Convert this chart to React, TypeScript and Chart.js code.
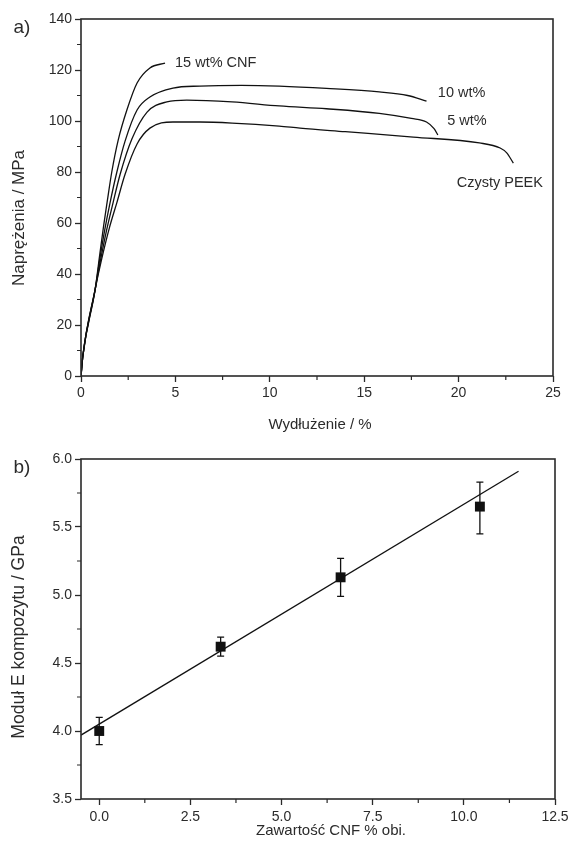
import React, { useEffect, useRef } from 'react';
import { Chart, registerables } from 'chart.js';

Chart.register(...registerables);

const FONT_FAMILY = '"Liberation Sans", Arial, Helvetica, sans-serif';
const INK = '#111111';
const AXIS = '#2a2a2a';
const TEXT = '#2b2b2b';

// ---------- Panel a) stress-strain curves ----------
const strainPeek = [0, 0.1, 0.75, 1.1, 1.5, 1.9, 2.33, 2.97, 3.65, 4.87, 6.3, 8.0, 10.5, 11.6, 14.0, 17.6, 21.1, 22.2, 22.55, 22.9];
const stressPeek = [0, 8, 34, 46, 58, 68, 79, 91, 97.2, 99.6, 99.6, 99.2, 98.0, 97.2, 95.8, 93.7, 91.4, 89.4, 87.5, 83.5];

const strain5 = [0, 0.1, 0.75, 1.05, 1.35, 1.7, 2.07, 2.7, 3.5, 4.55, 5.6, 8.0, 10.5, 13.0, 15.8, 17.5, 18.3, 18.7, 18.9];
const stress5 = [0, 8, 34, 46, 57, 68, 79, 93, 103.5, 107.5, 108.2, 107.5, 105.9, 104.8, 103.0, 101.0, 99.6, 97.0, 94.5];

const strain10 = [0, 0.1, 0.75, 1.0, 1.25, 1.54, 1.9, 2.33, 2.97, 3.65, 4.87, 6.3, 8.5, 10.5, 13.0, 15.8, 17.3, 18.3];
const stress10 = [0, 8, 34, 46, 57, 68, 80, 92, 104.3, 109.4, 112.9, 113.7, 114.0, 113.7, 112.8, 111.4, 110.0, 107.8];

const strain15 = [0, 0.1, 0.75, 1.0, 1.2, 1.38, 1.63, 1.97, 2.43, 2.97, 3.65, 4.45];
const stress15 = [0, 8, 34, 48, 59, 68, 80, 92.5, 104.3, 114.9, 120.8, 122.7];

const xTicksA = [0, 5, 10, 15, 20, 25];
const xMinorA = [2.5, 7.5, 12.5, 17.5, 22.5];
const yTicksA = [0, 20, 40, 60, 80, 100, 120, 140];
const yMinorA = [10, 30, 50, 70, 90, 110, 130];
const curveLabelsA = ['15 wt% CNF', '10 wt%', '5 wt%', 'Czysty PEEK'];

// ---------- Panel b) modulus vs CNF content ----------
const cnfContent = [0, 3.33, 6.62, 10.44];
const modulus = [4.0, 4.62, 5.13, 5.65];
const modulusLow = [3.9, 4.55, 4.99, 5.45];
const modulusHigh = [4.1, 4.69, 5.27, 5.83];
const fitX = [-0.5, 11.5];
const fitY = [3.97, 5.91];

const xTicksB = [0, 2.5, 5, 7.5, 10, 12.5];
const xMinorB = [1.25, 3.75, 6.25, 8.75, 11.25];
const yTicksB = [3.5, 4.0, 4.5, 5.0, 5.5, 6.0];
const yMinorB = [3.75, 4.25, 4.75, 5.25, 5.75];

// ---------- layout (not data) ----------
const curveLabelPos = [
  { x: 4.98, y: 122.7 },
  { x: 18.9, y: 111 },
  { x: 19.4, y: 100 },
  { x: 19.9, y: 75.7 },
];

const toXY = (xs: number[], ys: number[]) => xs.map((x, i) => ({ x, y: ys[i] }));

type TitleSpec = { text: string; x: number; y: number; size: number; rotate?: boolean };

type DecorSpec = {
  xMinor: number[];
  yMinor: number[];
  titles: TitleSpec[];
  dataLabels?: { text: string; x: number; y: number; size: number }[];
  errors?: { x: number[]; lo: number[]; hi: number[] };
};

function makeDecor(spec: DecorSpec) {
  return {
    id: 'decor',
    afterDatasetsDraw(chart: any) {
      const { ctx, chartArea: ca, scales } = chart;
      const xs = scales.x;
      const ys = scales.y;
      ctx.save();
      // error bars
      if (spec.errors) {
        ctx.strokeStyle = INK;
        ctx.lineWidth = 1.3;
        ctx.beginPath();
        spec.errors.x.forEach((xv, i) => {
          const px = xs.getPixelForValue(xv);
          const p1 = ys.getPixelForValue(spec.errors!.lo[i]);
          const p2 = ys.getPixelForValue(spec.errors!.hi[i]);
          ctx.moveTo(px, p1);
          ctx.lineTo(px, p2);
          ctx.moveTo(px - 3.5, p1);
          ctx.lineTo(px + 3.5, p1);
          ctx.moveTo(px - 3.5, p2);
          ctx.lineTo(px + 3.5, p2);
        });
        ctx.stroke();
      }
      // frame
      ctx.strokeStyle = AXIS;
      ctx.lineWidth = 1.6;
      ctx.strokeRect(ca.left, ca.top, ca.right - ca.left, ca.bottom - ca.top);
      // minor ticks
      ctx.lineWidth = 1.2;
      ctx.beginPath();
      spec.xMinor.forEach((v) => {
        const p = xs.getPixelForValue(v);
        ctx.moveTo(p, ca.bottom);
        ctx.lineTo(p, ca.bottom + 4);
      });
      spec.yMinor.forEach((v) => {
        const p = ys.getPixelForValue(v);
        ctx.moveTo(ca.left - 4, p);
        ctx.lineTo(ca.left, p);
      });
      ctx.stroke();
      // curve labels (data coordinates)
      ctx.fillStyle = TEXT;
      ctx.textBaseline = 'middle';
      ctx.textAlign = 'left';
      (spec.dataLabels || []).forEach((l) => {
        ctx.font = `${l.size}px ${FONT_FAMILY}`;
        ctx.fillText(l.text, xs.getPixelForValue(l.x), ys.getPixelForValue(l.y));
      });
      // titles
      ctx.textAlign = 'center';
      spec.titles.forEach((t) => {
        ctx.font = `${t.size}px ${FONT_FAMILY}`;
        if (t.rotate) {
          ctx.save();
          ctx.translate(t.x, t.y);
          ctx.rotate(-Math.PI / 2);
          ctx.fillText(t.text, 0, 0);
          ctx.restore();
        } else {
          ctx.fillText(t.text, t.x, t.y);
        }
      });
      ctx.restore();
    },
  };
}

function axis(min: number, max: number, ticks: number[], fmt: (v: number) => string, fitSize: number, horizontal: boolean, pad: number) {
  return {
    type: 'linear' as const,
    min,
    max,
    afterBuildTicks: (s: any) => {
      s.ticks = ticks.map((v) => ({ value: v }));
    },
    afterFit: (s: any) => {
      if (horizontal) s.height = fitSize;
      else s.width = fitSize;
    },
    ticks: {
      color: TEXT,
      font: { family: FONT_FAMILY, size: 14 },
      padding: pad,
      autoSkip: false,
      maxRotation: 0,
      callback: (v: any) => fmt(Number(v)),
    },
    grid: {
      display: true,
      drawOnChartArea: false,
      drawTicks: true,
      tickLength: 6,
      tickColor: AXIS,
      tickWidth: 1.3,
      color: AXIS,
    },
    border: { display: false },
  };
}

const lineDs = (xs: number[], ys: number[]) => ({
  data: toXY(xs, ys),
  showLine: true,
  borderColor: INK,
  borderWidth: 1.3,
  pointRadius: 0,
  fill: false,
  cubicInterpolationMode: 'monotone' as const,
});

function PanelA() {
  const ref = useRef<HTMLCanvasElement>(null);
  useEffect(() => {
    const chart = new Chart(ref.current!, {
      type: 'scatter',
      data: {
        datasets: [
          lineDs(strainPeek, stressPeek),
          lineDs(strain5, stress5),
          lineDs(strain10, stress10),
          lineDs(strain15, stress15),
        ],
      },
      options: {
        responsive: false,
        animation: false,
        events: [],
        layout: { padding: { top: 19, right: 20, bottom: 0, left: 0 } },
        plugins: { legend: { display: false }, tooltip: { enabled: false } },
        scales: {
          x: axis(0, 25, xTicksA, (v) => String(v), 69, true, 3),
          y: axis(0, 140, yTicksA, (v) => String(v), 81, false, 3),
        },
      },
      plugins: [
        makeDecor({
          xMinor: xMinorA,
          yMinor: yMinorA,
          dataLabels: curveLabelsA.map((t, i) => ({ text: t, x: curveLabelPos[i].x, y: curveLabelPos[i].y, size: 14.5 })),
          titles: [
            { text: 'a)', x: 22, y: 28, size: 19 },
            { text: 'Wydłużenie / %', x: 320, y: 425, size: 15 },
            { text: 'Naprężenia / MPa', x: 19, y: 218, size: 17, rotate: true },
          ],
        }),
      ],
    });
    return () => chart.destroy();
  }, []);
  return (
    <canvas
      ref={ref}
      width={573}
      height={445}
      style={{ position: 'absolute', left: 0, top: 0, width: 573, height: 445 }}
    />
  );
}

function PanelB() {
  const ref = useRef<HTMLCanvasElement>(null);
  useEffect(() => {
    const chart = new Chart(ref.current!, {
      type: 'scatter',
      data: {
        datasets: [
          lineDs(fitX, fitY),
          {
            data: toXY(cnfContent, modulus),
            showLine: false,
            pointStyle: 'rect',
            pointRadius: 7,
            backgroundColor: INK,
            borderColor: INK,
            borderWidth: 0,
          },
        ],
      },
      options: {
        responsive: false,
        animation: false,
        events: [],
        layout: { padding: { top: 14, right: 18, bottom: 0, left: 0 } },
        plugins: { legend: { display: false }, tooltip: { enabled: false } },
        scales: {
          x: axis(-0.5, 12.5, xTicksB, (v) => v.toFixed(1), 44, true, 4),
          y: axis(3.5, 6.0, yTicksB, (v) => v.toFixed(1), 81, false, 3),
        },
      },
      plugins: [
        makeDecor({
          xMinor: xMinorB,
          yMinor: yMinorB,
          errors: { x: cnfContent, lo: modulusLow, hi: modulusHigh },
          titles: [
            { text: 'b)', x: 22, y: 23, size: 19 },
            { text: 'Zawartość CNF % obi.', x: 331, y: 386, size: 15 },
            { text: 'Moduł E kompozytu / GPa', x: 19, y: 192, size: 17.5, rotate: true },
          ],
        }),
      ],
    });
    return () => chart.destroy();
  }, []);
  return (
    <canvas
      ref={ref}
      width={573}
      height={398}
      style={{ position: 'absolute', left: 0, top: 445, width: 573, height: 398 }}
    />
  );
}

export default function App() {
  return (
    <div style={{ position: 'absolute', left: 0, top: 0, width: 573, height: 843, background: '#ffffff', overflow: 'hidden' }}>
      <PanelA />
      <PanelB />
    </div>
  );
}
